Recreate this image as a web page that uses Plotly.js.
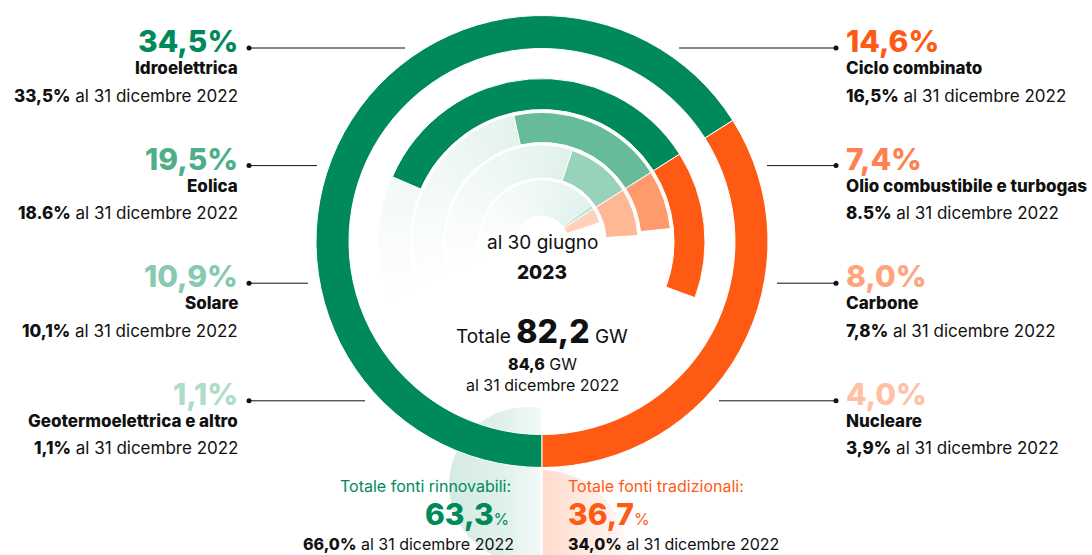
<!DOCTYPE html>
<html><head><meta charset="utf-8">
<script src="https://cdn.plot.ly/plotly-3.0.1.min.js"></script>
<style>html,body{margin:0;padding:0;background:#fff;} #chart{width:1092px;height:555px;}</style>
</head><body><div id="chart"></div>
<script>
// ---------- DATA ----------
const renewNames = ['Idroelettrica', 'Eolica', 'Solare', 'Geotermoelettrica e altro'];
const renewPct2023 = [34.5, 19.5, 10.9, 1.1];
const renewPct2022 = [33.5, 18.6, 10.1, 1.1];
const renewPrevSep = [',', '.', ',', ','];
const tradNames = ['Ciclo combinato', 'Olio combustibile e turbogas', 'Carbone', 'Nucleare'];
const tradPct2023 = [14.6, 7.4, 8.0, 4.0];
const tradPct2022 = [16.5, 8.5, 7.8, 3.9];
const tradPrevSep = [',', '.', ',', ','];
const totalNames = ['Totale fonti rinnovabili:', 'Totale fonti tradizionali:'];
const totalPct2023 = [63.3, 36.7];
const totalPct2022 = [66.0, 34.0];
const totalGW = [82.2, 84.6];
const dateLabels = ['al 30 giugno', '2023', 'al 31 dicembre 2022'];

// ---------- STYLE ----------
const W = 1092, H = 555;
const CX = 542, CY = 241.5, S = 240;
const FONT = 'Inter, "Noto Sans", sans-serif';
const INK = '#111111';
const GREEN = [0, 138, 90], ORANGE = [255, 90, 20];
const renewColors = ['#008A5A', '#66BB9A', '#99D2BB', '#BFE4D4'];
const tradColors = ['#FF5A14', '#FF9A6C', '#FFB896', '#FFD0BA'];
const renewLabelColors = ['#008A5A', '#4FAE89', '#88CAAF', '#AEDCC8'];
const tradLabelColors = ['#FF5A14', '#FF8050', '#FFA47D', '#FFC1A5'];
const ringBase = [132, 99, 64, 26];
const ringTop = [163, 129, 96, 61];
const outerBase = 193, outerTop = 226;

const fmt = (v, sep) => v.toFixed(1).replace('.', sep || ',');
const mix = (rgb, a) => 'rgb(' + rgb.map(c => Math.round(255 * (1 - a) + c * a)).join(',') + ')';
const heavy = s => '<span style="font-weight:800">' + s + '</span>';

// boundary angle between renewables and traditional (clockwise from top)
const B = 180 + 3.6 * totalPct2022[0];

// ---------- faded background slices ----------
const fadeG = {theta: [], width: [], base: [], r: [], color: []};
const fadeO = {theta: [], width: [], base: [], r: [], color: []};
const STEP = 1.5;
for (let i = 0; i < 4; i++) {
  const rf = (ringTop[i] - ringBase[3]) / (ringTop[0] - ringBase[3]);
  const radial = 0.25 + 0.75 * rf;
  const A0 = B - 175;
  const L = B - 3.6 * renewPct2023[i];
  for (let a = A0; a < L; a += STEP) {
    const w = Math.min(STEP, L - a);
    const t = (a + w / 2 - A0) / (B - A0);
    fadeG.theta.push(a + w / 2); fadeG.width.push(w + 0.7);
    fadeG.base.push(ringBase[i]); fadeG.r.push(ringTop[i] - ringBase[i]);
    fadeG.color.push(mix(GREEN, 0.26 * Math.pow(t, 1.3) * radial));
  }
  const A1 = 187;
  const E = B + 3.6 * tradPct2023[i];
  for (let a = E; a < A1; a += STEP) {
    const w = Math.min(STEP, A1 - a);
    const t = (A1 - (a + w / 2)) / (A1 - B);
    fadeO.theta.push(a + w / 2); fadeO.width.push(w + 0.7);
    fadeO.base.push(ringBase[i]); fadeO.r.push(ringTop[i] - ringBase[i]);
    fadeO.color.push(mix(ORANGE, 0.26 * Math.pow(t, 1.3) * radial));
  }
}

// ---------- bottom decorative half discs ----------
function disc(cx, cy, rad, clipX, side) {
  const xs = [], ys = [];
  for (let k = 0; k <= 120; k++) {
    const ang = 2 * Math.PI * k / 120;
    let x = cx + rad * Math.cos(ang);
    x = side === 'left' ? Math.min(x, clipX) : Math.max(x, clipX);
    xs.push(x); ys.push(cy + rad * Math.sin(ang));
  }
  return {xs, ys};
}
const dG = disc(527, 485, 78, 541.2, 'left');
const dO = disc(541, 556, 86, 542.8, 'right');

const traces = [
  {type: 'scatter', x: dG.xs, y: dG.ys, mode: 'lines', line: {width: 0}, fill: 'toself',
   fillgradient: {type: 'horizontal', start: 449, stop: 541, colorscale: [[0, 'rgba(0,138,90,0.17)'], [0.6, 'rgba(0,138,90,0.12)'], [1, 'rgba(0,138,90,0.05)']]},
   hoverinfo: 'skip', showlegend: false, xaxis: 'x', yaxis: 'y'},
  {type: 'scatter', x: dO.xs, y: dO.ys, mode: 'lines', line: {width: 0}, fill: 'toself',
   fillgradient: {type: 'horizontal', start: 542, stop: 627, colorscale: [[0, 'rgba(255,90,20,0.22)'], [1, 'rgba(255,90,20,0.04)']]},
   hoverinfo: 'skip', showlegend: false, xaxis: 'x', yaxis: 'y'},
  {type: 'barpolar', theta: fadeG.theta, width: fadeG.width, base: fadeG.base, r: fadeG.r,
   marker: {color: fadeG.color, line: {width: 0}}, hoverinfo: 'skip', showlegend: false},
  {type: 'barpolar', theta: fadeO.theta, width: fadeO.width, base: fadeO.base, r: fadeO.r,
   marker: {color: fadeO.color, line: {width: 0}}, hoverinfo: 'skip', showlegend: false},
  // outer ring: totals
  {type: 'barpolar',
   theta: [180 + 1.8 * totalPct2022[0], (B + 1.8 * totalPct2022[1]) % 360],
   width: [3.6 * totalPct2022[0], 3.6 * totalPct2022[1]],
   base: [outerBase, outerBase], r: [outerTop - outerBase, outerTop - outerBase],
   marker: {color: [renewColors[0], tradColors[0]], line: {color: '#ffffff', width: 1}},
   hoverinfo: 'skip', showlegend: false},
  // inner rings: renewables
  {type: 'barpolar',
   theta: renewPct2023.map(p => B - 1.8 * p),
   width: renewPct2023.map(p => 3.6 * p),
   base: ringBase, r: ringTop.map((t, i) => t - ringBase[i]),
   marker: {color: renewColors, line: {color: '#ffffff', width: 1}},
   hoverinfo: 'skip', showlegend: false},
  // inner rings: traditional
  {type: 'barpolar',
   theta: tradPct2023.map(p => (B + 1.8 * p) % 360),
   width: tradPct2023.map(p => 3.6 * p),
   base: ringBase, r: ringTop.map((t, i) => t - ringBase[i]),
   marker: {color: tradColors, line: {color: '#ffffff', width: 1}},
   hoverinfo: 'skip', showlegend: false}
];

// ---------- annotations & shapes ----------
const ann = [], shapes = [];
function txt(x, y, text, size, color, xanchor) {
  ann.push({xref: 'x', yref: 'y', x: x, y: y, text: text, showarrow: false,
    xanchor: xanchor, yanchor: 'middle', font: {family: FONT, size: size, color: color}});
}
const LX = 238, RX = 846, DOTL = 249, DOTR = 836;
const lineEndL = [405, 317, 308, 365];
const lineStartR = [679, 767, 777, 719];
for (let i = 0; i < 4; i++) {
  const yP = 41 + 117.6 * i;
  // left: renewables
  txt(LX + 2, yP, heavy(fmt(renewPct2023[i]) + '%'), 30, renewLabelColors[i], 'right');
  txt(LX + 2, yP + 27, heavy(renewNames[i]), 17, INK, 'right');
  txt(LX + 2, yP + 54.5, heavy(fmt(renewPct2022[i], renewPrevSep[i]) + '%') + ' al 31 dicembre 2022', 17, INK, 'right');
  // right: traditional
  txt(RX - 2, yP, heavy(fmt(tradPct2023[i]) + '%'), 30, tradLabelColors[i], 'left');
  txt(RX - 2, yP + 27, heavy(tradNames[i]), 17, INK, 'left');
  txt(RX - 2, yP + 54.5, heavy(fmt(tradPct2022[i], tradPrevSep[i]) + '%') + ' al 31 dicembre 2022', 17, INK, 'left');
  const yl = yP + 7;
  shapes.push({type: 'line', xref: 'x', yref: 'y', x0: DOTL, x1: lineEndL[i], y0: yl, y1: yl, line: {color: INK, width: 1}});
  shapes.push({type: 'line', xref: 'x', yref: 'y', x0: lineStartR[i], x1: DOTR, y0: yl, y1: yl, line: {color: INK, width: 1}});
  shapes.push({type: 'circle', xref: 'x', yref: 'y', x0: DOTL - 2.5, x1: DOTL + 2.5, y0: yl - 2.5, y1: yl + 2.5, fillcolor: INK, line: {width: 0}});
  shapes.push({type: 'circle', xref: 'x', yref: 'y', x0: DOTR - 2.5, x1: DOTR + 2.5, y0: yl - 2.5, y1: yl + 2.5, fillcolor: INK, line: {width: 0}});
}
// centre
txt(CX, 242, dateLabels[0], 19, INK, 'center');
txt(CX, 272, heavy(dateLabels[1]), 19, INK, 'center');
txt(CX, 331, 'Totale <span style="font-size:32px;font-weight:800">' + fmt(totalGW[0]) + '</span> GW', 19, INK, 'center');
txt(CX, 364, heavy(fmt(totalGW[1])) + ' GW', 16, INK, 'center');
txt(CX, 385, dateLabels[2], 16, INK, 'center');
// bottom totals
txt(513, 486, totalNames[0], 16, '#008A5A', 'right');
txt(511, 514, heavy(fmt(totalPct2023[0])) + '<span style="font-size:16px">%</span>', 30, '#008A5A', 'right');
txt(516, 544, heavy(fmt(totalPct2022[0]) + '%') + ' al 31 dicembre 2022', 16, INK, 'right');
txt(566, 486, totalNames[1], 16, '#FF5A14', 'left');
txt(566, 514, heavy(fmt(totalPct2023[1])) + '<span style="font-size:16px">%</span>', 30, '#FF5A14', 'left');
txt(566, 544, heavy(fmt(totalPct2022[1]) + '%') + ' al 31 dicembre 2022', 16, INK, 'left');

const layout = {
  width: W, height: H,
  margin: {l: 0, r: 0, t: 0, b: 0, pad: 0},
  paper_bgcolor: '#ffffff', plot_bgcolor: 'rgba(0,0,0,0)',
  showlegend: false,
  font: {family: FONT, color: INK},
  xaxis: {range: [0, W], domain: [0, 1], visible: false, fixedrange: true},
  yaxis: {range: [H, 0], domain: [0, 1], visible: false, fixedrange: true},
  polar: {
    domain: {x: [(CX - S) / W, (CX + S) / W], y: [1 - (CY + S) / H, 1 - (CY - S) / H]},
    bgcolor: 'rgba(0,0,0,0)',
    barmode: 'overlay',
    radialaxis: {range: [0, S], visible: false},
    angularaxis: {rotation: 90, direction: 'clockwise', visible: false, thetaunit: 'degrees'}
  },
  annotations: ann,
  shapes: shapes
};
Plotly.newPlot('chart', traces, layout, {displayModeBar: false, staticPlot: true});
</script>
</body></html>
